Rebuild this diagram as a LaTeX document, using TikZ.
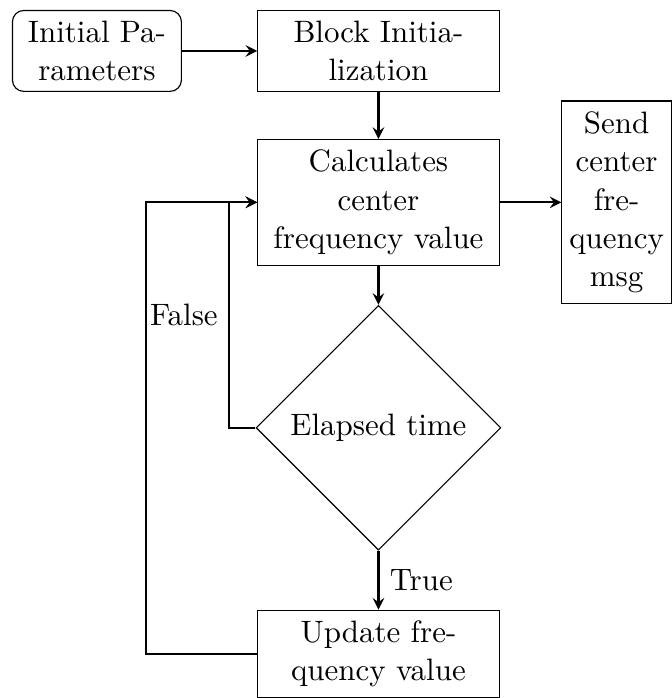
\documentclass[tikz,border=0pt,11pt]{standalone}
\usepackage{tikz}
\usetikzlibrary{shapes.geometric, arrows, positioning}
\tikzstyle{startstop} = [rectangle, rounded corners, minimum width=2.1cm, minimum height=1cm, align=center, draw=black]
\tikzstyle{process}   = [rectangle, minimum width=3cm, minimum height=1cm, align=center, draw=black]
\tikzstyle{decision}  = [diamond, minimum width=3cm, aspect=1, align=center, draw=black]
\tikzstyle{arrow}     = [thick,->,>=stealth]
\begin{document}
\begin{tikzpicture}[node distance=0.6cm]

  \node[startstop] (start) {Initial Pa-\\rameters};
  \node[process, right=26.6pt of start] (init) {Block Initia-\\lization};
  \node[process, below=16.6pt of init] (calc) {Calculates\\center\\frequency value};
  \node[decision, below=13.8pt of calc] (elapsed) {Elapsed time};
  \node[process, below=20.8pt of elapsed] (update) {Update fre-\\quency value};
  \node[process, right=21.8pt of calc, minimum width=1.29cm, inner xsep=2.6pt] (send) {Send\\center\\fre-\\quency\\msg};

  \draw[arrow] (start) -- (init);
  \draw[arrow] (init) -- (calc);
  \draw[arrow] (calc) -- (send);
  \draw[arrow] (calc) -- (elapsed);
  \draw[arrow] (elapsed) -- node[right]{True} (update);
  \draw[arrow] (elapsed.west) -- ++(-9.3pt,0) |- node[pos=0.25,left]{False} (calc.west);
  \draw[arrow] (update.west) -- ++(-39.4pt,0) |- (calc.west);

  \path ([shift={(-4.2pt,3.5pt)}]start.north west) rectangle (send.east |- update.south);
\end{tikzpicture}
\end{document}
